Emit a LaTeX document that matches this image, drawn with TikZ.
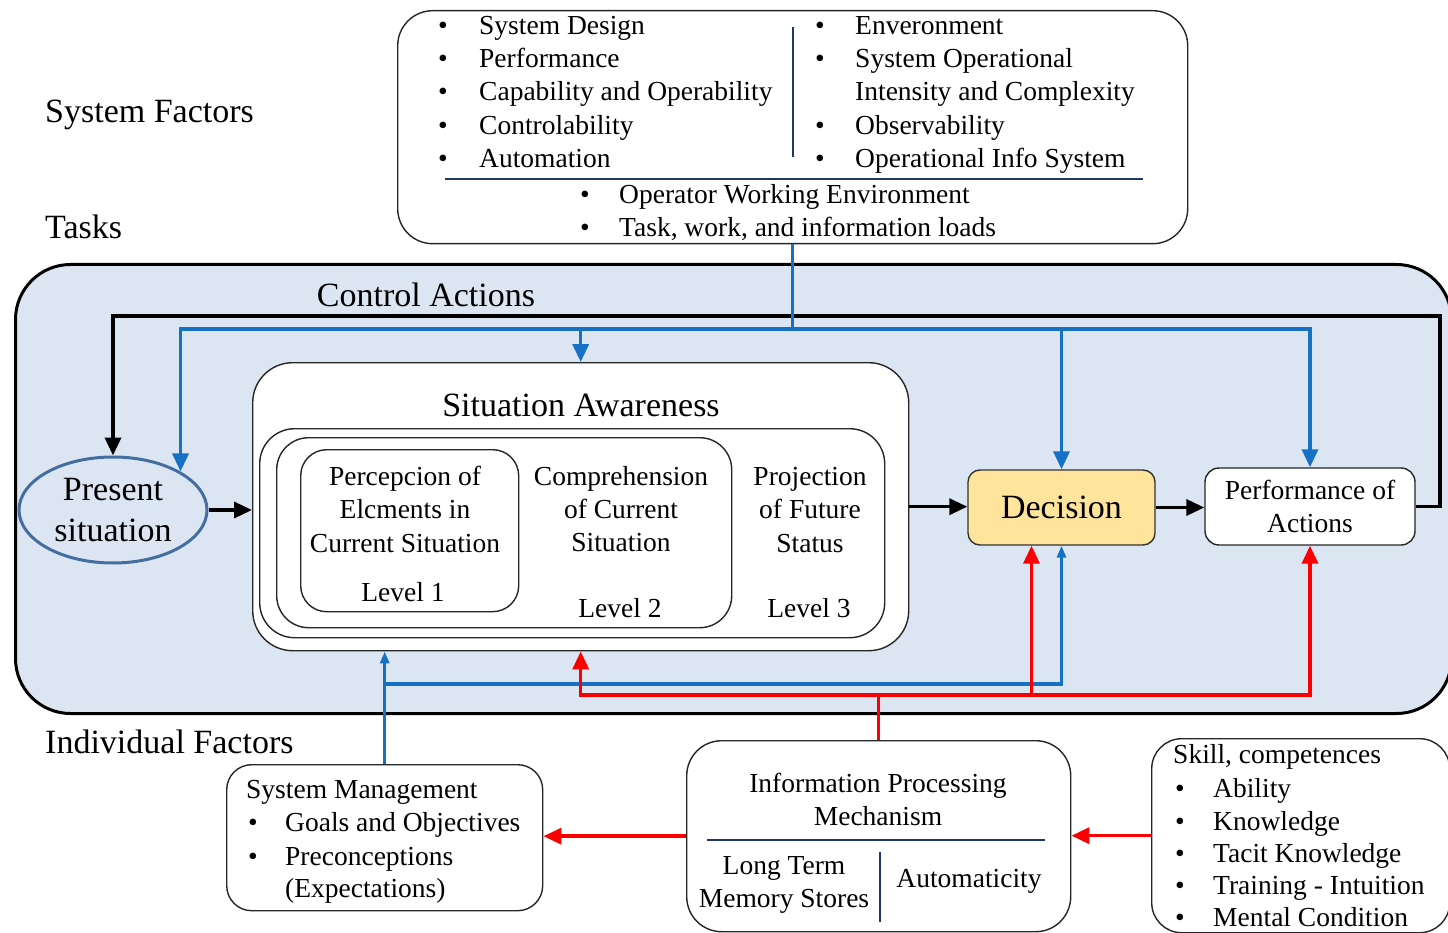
\documentclass[tikz,border=0pt]{standalone}
\usepackage{fontspec}
\setmainfont{Liberation Serif}
\usetikzlibrary{arrows.meta,shapes.geometric,calc}

\definecolor{bgblue}{RGB}{220,230,242}
\definecolor{flowblue}{RGB}{22,112,196}
\definecolor{flowred}{RGB}{250,0,0}
\definecolor{navy}{RGB}{31,56,104}
\definecolor{decfill}{RGB}{255,228,155}
\definecolor{ellblue}{RGB}{68,110,160}

% one bulleted line: name, bullet x, text x, baseline y, text
\newcommand{\bulletrow}[5]{%
  \node[body, anchor=base] (#1-b) at (#2,#4) {•};
  \node[body, anchor=base west] (#1) at (#3,#4) {#5};}

\begin{document}
\begin{tikzpicture}[x=1pt,y=-1pt,
  big/.style={font=\fontsize{34}{41}\selectfont, inner sep=0pt},
  body/.style={font=\fontsize{27.5}{33}\selectfont, inner sep=0pt},
  card/.style={draw=black!85, line width=1.4pt, fill=white, inner sep=0pt, anchor=north west},
  sepline/.style={draw=navy, line width=2.8pt},
  flowK/.style={draw=black, line width=3.5pt},
  flowB/.style={draw=flowblue, line width=3.5pt},
  flowR/.style={draw=flowred, line width=3.5pt},
  tip/.style={-{Triangle[length=18pt,width=16pt]}},
  smalltip/.style={-{Triangle[length=12pt,width=9pt]}}]

\useasboundingbox (0,0) rectangle (1448,933);

% cognitive panel
\node[draw=black, line width=3pt, fill=bgblue, rounded corners=55pt,
      minimum width=1436pt, minimum height=449pt, anchor=north west, inner sep=0pt]
      (panel) at (14,263) {};

% side labels
\node[big, anchor=base west] (sysf) at (45,123) {System Factors};
\node[big, anchor=base west] (tasks) at (45,239) {Tasks};
\node[big, anchor=base west] (indf) at (45,753) {Individual Factors};
\node[big, anchor=base] (ctrl) at (426,306) {Control Actions};

% system factors box
\node[card, rounded corners=35pt, minimum width=790pt, minimum height=233pt] (tb) at (397,10) {};
\draw[sepline] (793,27) -- (793,157);
\draw[sepline] (445,179) -- (1143,179);
\bulletrow{sd}{443}{479}{35}{System Design}
\bulletrow{pf}{443}{479}{68}{Performance}
\bulletrow{cap}{443}{479}{101}{Capability and Operability}
\bulletrow{ctl}{443}{479}{135}{Controlability}
\bulletrow{aut}{443}{479}{168}{Automation}
\bulletrow{env}{820}{855}{35}{Enveronment}
\bulletrow{sop}{820}{855}{68}{System Operational}
\node[body, anchor=base west] (iac) at (855,101) {Intensity and Complexity};
\bulletrow{obs}{820}{855}{135}{Observability}
\bulletrow{ois}{820}{855}{168}{Operational Info System}
\bulletrow{owe}{585}{619}{204}{Operator Working Environment}
\bulletrow{twl}{585}{619}{237}{Task, work, and information loads}

% situation awareness
\node[card, rounded corners=40pt, minimum width=656pt, minimum height=288pt] (sa) at (252,362) {};
\node[card, rounded corners=35pt, minimum width=625pt, minimum height=209pt] (lv3box) at (259,428) {};
\node[card, rounded corners=32pt, minimum width=455pt, minimum height=190pt] (lv2box) at (276,437) {};
\node[card, rounded corners=26pt, minimum width=218pt, minimum height=162pt] (lv1box) at (300,449) {};
\node[big, anchor=base] (satitle) at (581,416) {Situation Awareness};
\node[body, anchor=base] (pe1) at (405,485) {Percepcion of};
\node[body, anchor=base] (pe2) at (405,518) {Elcments in};
\node[body, anchor=base] (pe3) at (405,552) {Current Situation};
\node[body, anchor=base] (lv1) at (403,601) {Level 1};
\node[body, anchor=base] (co1) at (621,485) {Comprehension};
\node[body, anchor=base] (co2) at (621,518) {of Current};
\node[body, anchor=base] (co3) at (621,551) {Situation};
\node[body, anchor=base] (lv2) at (620,617) {Level 2};
\node[body, anchor=base] (pr1) at (810,485) {Projection};
\node[body, anchor=base] (pr2) at (810,518) {of Future};
\node[body, anchor=base] (pr3) at (810,552) {Status};
\node[body, anchor=base] (lv3) at (809,617) {Level 3};

% present situation, decision, performance
\node[ellipse, draw=ellblue, line width=3pt, fill=bgblue, minimum width=188pt,
      minimum height=106pt, big, align=center] (pres) at (113,510) {Present\\situation};
\node[draw=black!80, line width=1.4pt, fill=decfill, rounded corners=12pt,
      minimum width=187pt, minimum height=75pt, big] (dec) at (1061.5,507.5) {Decision};
\node[card, anchor=center, rounded corners=14pt, minimum width=210pt, minimum height=77pt,
      body, align=center] (perf) at (1310,506.5) {Performance of\\Actions};

% individual factors boxes
\node[card, rounded corners=25pt, minimum width=316pt, minimum height=146pt] (sysm) at (226,764) {};
\node[body, anchor=base west] (smt) at (246,798) {System Management};
\bulletrow{goal}{253}{285}{831}{Goals and Objectives}
\bulletrow{prec}{253}{285}{865}{Preconceptions}
\node[body, anchor=base west] (expc) at (285,897) {(Expectations)};

\node[card, rounded corners=35pt, minimum width=384pt, minimum height=191pt] (info) at (686,740) {};
\draw[sepline] (707,840) -- (1045,840);
\draw[sepline] (880,852) -- (880,922);
\node[body, anchor=base] (ip1) at (878,792) {Information Processing};
\node[body, anchor=base] (ip2) at (878,825) {Mechanism};
\node[body, anchor=base] (lt1) at (784,874) {Long Term};
\node[body, anchor=base] (lt2) at (784,907) {Memory Stores};
\node[body, anchor=base] (atm) at (969,887) {Automaticity};

\node[card, rounded corners=30pt, minimum width=298pt, minimum height=194pt] (skill) at (1151,738) {};
\node[body, anchor=base west] (skt) at (1173,763) {Skill, competences};
\bulletrow{abl}{1180}{1213}{797}{Ability}
\bulletrow{knw}{1180}{1213}{830}{Knowledge}
\bulletrow{tck}{1180}{1213}{862}{Tacit Knowledge}
\bulletrow{trn}{1180}{1213}{894}{Training - Intuition}
\bulletrow{mnt}{1180}{1213}{926}{Mental Condition}

% bus levels and turning points
\coordinate (busK) at (0,316);
\coordinate (busB) at (0,329);
\coordinate (busL) at (0,684);
\coordinate (busR) at (0,695);
\coordinate (retX) at (1440,0);
\coordinate (decR) at ($(dec.south)+(-30,0)$);

% main flow and feedback
\draw[flowK, tip] (pres.east) -- (pres.east -| sa.west);
\draw[flowK, tip] (sa.east) -- (sa.east -| dec.west);
\draw[flowK, tip] (dec.east) -- (dec.east -| perf.west);
\draw[flowK, tip] (perf.east) -- (perf.east -| retX) -- (retX |- busK)
      -- (pres.north |- busK) -- (pres.north);

% task influences
\draw[flowB] (tb.south) -- (tb.south |- busB);
\draw[flowB, tip] (tb.south |- busB) -- (pres.north east |- busB) -- (pres.north east);
\draw[flowB, tip] (tb.south |- busB) -- (perf.north |- busB) -- (perf.north);
\draw[flowB, tip] (sa.north |- busB) -- (sa.north);
\draw[flowB, tip] (dec.north |- busB) -- (dec.north);

% system management influences
\draw[flowB, smalltip] (sysm.north) -- (sysm.north |- sa.south);
\draw[flowB, smalltip] (sysm.north |- busL) -- (dec.south |- busL) -- (dec.south);

% information processing influences
\draw[flowR] (info.north) -- (info.north |- busR);
\draw[flowR, tip] (info.north |- busR) -- (sa.south |- busR) -- (sa.south);
\draw[flowR, tip] (info.north |- busR) -- (perf.south |- busR) -- (perf.south);
\draw[flowR, tip] (decR |- busR) -- (decR);
\draw[flowR, tip] (info.west) -- (info.west -| sysm.east);
\draw[flowR, tip] (skill.west) -- (skill.west -| info.east);

\end{tikzpicture}
\end{document}
